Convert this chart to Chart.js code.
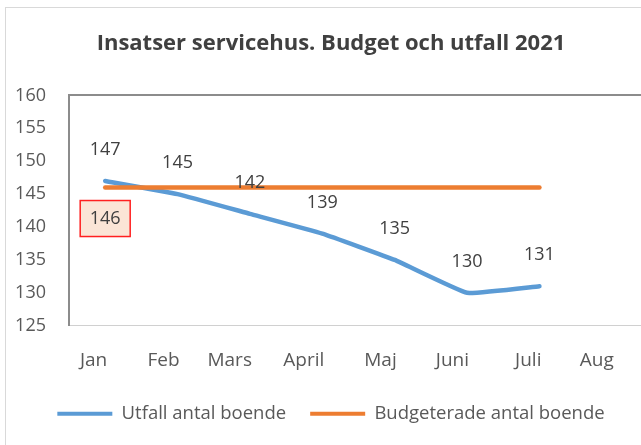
<!DOCTYPE html>
<html>
<head>
<meta charset="utf-8">
<script src="https://cdn.jsdelivr.net/npm/chart.js@4/dist/chart.umd.min.js"></script>
<style>
  html, body { margin: 0; padding: 0; background: #fff; overflow: hidden; width: 641px; height: 445px; }
  #frame { position: absolute; left: 5px; top: 7px; width: 720px; height: 470px;
           border-left: 1px solid #d9d9d9; border-top: 1px solid #d9d9d9; }
  #wrap { position: absolute; left: 0; top: 0; width: 660px; height: 445px; }
</style>
</head>
<body>
<div id="frame"></div>
<div id="wrap"><canvas id="c" width="660" height="445"></canvas></div>
<script>
// Månader, utfall och budget för servicehus 2021
const months = ['Jan', 'Feb', 'Mars', 'April', 'Maj', 'Juni', 'Juli', 'Aug'];
const utfall = [147, 145, 142, 139, 135, 130, 131, null];
const budget = [146, 146, 146, 146, 146, 146, 146, null];
const budgetLabelMonths = ['Jan'];          // budgetvärden som skrivs ut i ruta
const yMin = 125, yMax = 160, yStep = 5;

const FONT = '"Open Sans", "Liberation Sans", sans-serif';
const TEXT = '#595959';

// Skriver ut värdena vid linjernas punkter
const valueLabels = {
  id: 'valueLabels',
  afterDatasetsDraw(chart) {
    const ctx = chart.ctx;
    ctx.save();
    ctx.font = '18px ' + FONT;
    ctx.textAlign = 'center';
    ctx.textBaseline = 'middle';
    const mU = chart.getDatasetMeta(0);
    mU.data.forEach((pt, i) => {
      const v = utfall[i];
      if (v == null) return;
      ctx.fillStyle = '#404040';
      ctx.fillText(String(v), pt.x, pt.y - 31);
    });
    const mB = chart.getDatasetMeta(1);
    budgetLabelMonths.forEach(m => {
      const i = months.indexOf(m);
      const pt = mB.data[i];
      const x = pt.x, y = pt.y + 31;
      ctx.fillStyle = '#fbe5d6';
      ctx.fillRect(x - 25, y - 18, 50, 36);
      ctx.strokeStyle = '#ff2020';
      ctx.lineWidth = 1.5;
      ctx.strokeRect(x - 25, y - 18, 50, 36);
      ctx.fillStyle = '#404040';
      ctx.fillText(String(budget[i]), x, y);
    });
    ctx.restore();
  }
};

new Chart(document.getElementById('c'), {
  type: 'line',
  data: {
    labels: months,
    datasets: [
      {
        label: 'Utfall antal boende',
        data: utfall,
        borderColor: '#5b9bd5',
        backgroundColor: '#5b9bd5',
        borderWidth: 4.5,
        pointRadius: 0,
        tension: 0.1,
        borderCapStyle: 'round',
        order: 1
      },
      {
        label: 'Budgeterade antal boende',
        data: budget,
        borderColor: '#ed7d31',
        backgroundColor: '#ed7d31',
        borderWidth: 4.5,
        pointRadius: 0,
        borderCapStyle: 'round',
        order: 0
      }
    ]
  },
  options: {
    responsive: false,
    animation: false,
    devicePixelRatio: 1,
    layout: { padding: { left: 14, right: 12, top: 0, bottom: 12 } },
    scales: {
      x: {
        offset: true,
        afterFit: axis => { axis.height += 9; },
        grid: { display: false, drawTicks: true, tickLength: 23 },
        border: { display: false },
        ticks: {
          maxRotation: 0, align: 'end', labelOffset: 2, padding: 0,
          color: TEXT, font: { family: FONT, size: 19 }
        }
      },
      y: {
        min: yMin, max: yMax,
        afterFit: axis => { axis.width = 55; },
        grid: {
          drawTicks: false,
          color: c => c.tick.value === yMax ? '#8c8c8c' : (c.tick.value === yMin ? '#d0d0d0' : 'rgba(0,0,0,0)'),
          lineWidth: c => c.tick.value === yMax ? 2 : 1
        },
        border: { display: true, color: '#8c8c8c', width: 2 },
        ticks: {
          stepSize: yStep, padding: 23,
          color: TEXT, font: { family: FONT, size: 18 }
        }
      }
    },
    plugins: {
      title: {
        display: true,
        text: 'Insatser servicehus. Budget och utfall 2021',
        color: '#404040',
        font: { family: FONT, size: 22, weight: 'bold' },
        padding: { top: 31, bottom: 38 }
      },
      legend: {
        position: 'bottom',
        labels: {
          boxWidth: 55, boxHeight: 4, padding: 24,
          color: TEXT, font: { family: FONT, size: 18.5 },
          sort: (a, b) => a.datasetIndex - b.datasetIndex,
          generateLabels(chart) {
            return Chart.defaults.plugins.legend.labels.generateLabels(chart).map(l => {
              const ds = chart.data.datasets[l.datasetIndex];
              l.fillStyle = ds.borderColor;
              l.strokeStyle = ds.borderColor;
              l.lineWidth = 0;
              return l;
            });
          }
        }
      },
      tooltip: { enabled: false }
    }
  },
  plugins: [valueLabels]
});
</script>
</body>
</html>
